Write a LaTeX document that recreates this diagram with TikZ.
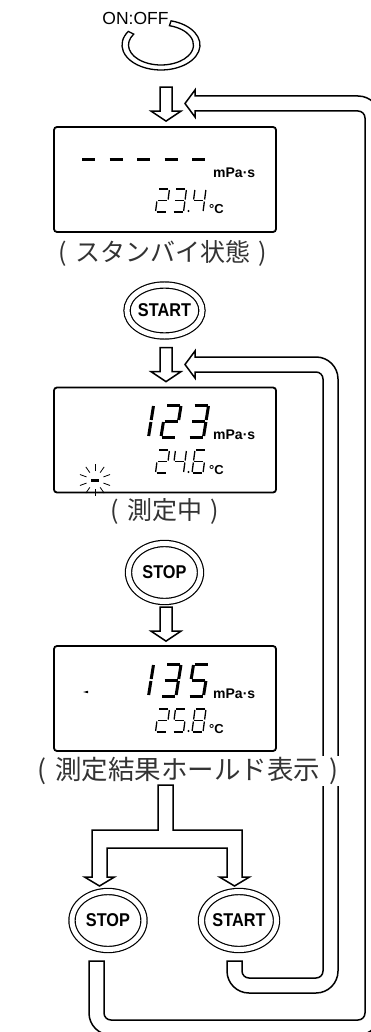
\documentclass[tikz,border=0pt]{standalone}
\usepackage{fontspec}
\setmainfont{Liberation Sans}
\newfontfamily\jpfont{Noto Sans CJK JP}
\usetikzlibrary{shapes.geometric, calc}

% seven segment pieces, sizes set by \bigdigit / \smalldigit
\newcommand{\lcdsega}{\draw[segline] (\sgg,-\sgh) -- (\sgw-\sgg,-\sgh);}
\newcommand{\lcdsegb}{\draw[segline] (\sgw,-\sgh+\sgg) -- (\sgw,-\sgh/2-\sgg);}
\newcommand{\lcdsegc}{\draw[segline] (\sgw,-\sgh/2+\sgg) -- (\sgw,-\sgg);}
\newcommand{\lcdsegd}{\draw[segline] (\sgg,0) -- (\sgw-\sgg,0);}
\newcommand{\lcdsege}{\draw[segline] (0,-\sgg) -- (0,-\sgh/2+\sgg);}
\newcommand{\lcdsegf}{\draw[segline] (0,-\sgh/2-\sgg) -- (0,-\sgh+\sgg);}
\newcommand{\lcdsegg}{\draw[segline] (\sgg,-\sgh/2) -- (\sgw-\sgg,-\sgh/2);}
\newcommand{\bigdigit}[3]{%
  \begin{scope}[shift={(#1,#2)}, xslant=0.16]
    \def\sgw{15}\def\sgh{32}\def\sgg{1}\def\sglw{3pt}
    \foreach \s in {#3} {\csname lcdseg\s\endcsname}
  \end{scope}}
\newcommand{\smalldigit}[3]{%
  \begin{scope}[shift={(#1,#2)}, xslant=0.13]
    \def\sgw{11}\def\sgh{23}\def\sgg{1}\def\sglw{1.3pt}
    \foreach \s in {#3} {\csname lcdseg\s\endcsname}
  \end{scope}}

\begin{document}
\begin{tikzpicture}[x=1pt, y=-1pt,
    lcd/.style={draw, line width=1.8pt, rounded corners=3pt, minimum width=222pt, minimum height=105pt, inner sep=0pt},
    capt/.style={font=\jpfont\fontsize{25}{28}\selectfont, text=black!80, inner sep=0pt},
    btn/.style={ellipse, draw, double, double distance=5pt, line width=1.2pt, minimum width=72pt, minimum height=58pt, inner sep=0pt, font=\bfseries\fontsize{18.5}{19}\selectfont},
    tube/.style={draw, line width=1.5pt, fill=white, line join=miter},
    unit/.style={font=\bfseries\fontsize{14}{14}\selectfont, inner sep=0pt, anchor=base west},
    degc/.style={font=\bfseries\fontsize{13}{13}\selectfont, inner sep=0pt, anchor=base west},
    segline/.style={line width=\sglw},
    dnarrow/.pic={\draw[tube] (-6,-34) -- (-6,-10) -- (-15,-10) -- (0,0) -- (15,-10) -- (6,-10) -- (6,-34) -- cycle;}
  ]
  \useasboundingbox (0,0) rectangle (371,1032);
  \clip (0,0) rectangle (371,1032);

  % --- power switch ---
  \node[font=\fontsize{17.5}{18}\selectfont, inner sep=0pt] (onoff) at (135.5,18.5) {ON:OFF};
  \coordinate (ring) at (161,45);
  \draw[tube, line width=1.3pt] (ring) ++(-75:39 and 25) arc[start angle=-75, end angle=213, x radius=39, y radius=25]
    -- ($(ring)+(213:32.5 and 20)$) arc[start angle=213, end angle=-75, x radius=32.5, y radius=20] -- cycle;

  % --- displays ---
  \node[lcd] (disp1) at (165,179.5) {};
  \node[lcd] (disp2) at (165,440) {};
  \node[lcd] (disp3) at (165,698.5) {};

  \node[capt] (capt1) at (163,253) {\makebox[1em]{(}スタンバイ状態\makebox[1em]{)}};
  \node[capt] (capt2) at (165,511) {\makebox[1em]{(}測定中\makebox[1em]{)}};

  % standby: dashes and 23.4
  \foreach \i in {0,...,4} {\bigdigit{78.5+27.5*\i}{176}{g}}
  \node[unit] (mpa1) at (213,178) {mPa·s};
  \smalldigit{155.5}{212}{a,b,g,e,d}
  \smalldigit{172.5}{212}{a,b,g,c,d}
  \fill (188.5,211) circle (1.1);
  \smalldigit{192}{212}{b,c,f,g}
  \node[degc] (deg1) at (209,213.5) {°C};

  % measuring: 123 / 24.6
  \bigdigit{133.5}{437}{b,c}
  \bigdigit{161}{437}{a,b,g,e,d}
  \bigdigit{188.5}{437}{a,b,g,c,d}
  \node[unit] (mpa2) at (213,439) {mPa·s};
  \smalldigit{155.5}{473}{a,b,g,e,d}
  \smalldigit{172.5}{473}{b,c,f,g}
  \fill (188.5,472) circle (1.1);
  \smalldigit{192}{473}{a,c,d,e,f,g}
  \node[degc] (deg2) at (209,474) {°C};
  \begin{scope}[shift={(95,480)}]
    \draw[line width=3pt] (-4,0) -- (4,0);
    \foreach \a in {20,55,90,125,160,200,235,270,305,340}
      \draw[line width=0.8pt] (\a:9) -- (\a:16);
  \end{scope}

  % hold: 135 / 25.8
  \bigdigit{133.5}{696}{b,c}
  \bigdigit{161}{696}{a,b,g,c,d}
  \bigdigit{188.5}{696}{a,f,g,c,d}
  \node[unit] (mpa3) at (213,698) {mPa·s};
  \smalldigit{155.5}{732}{a,b,g,e,d}
  \smalldigit{172.5}{732}{a,f,g,c,d}
  \fill (188.5,731) circle (1.1);
  \smalldigit{192}{732}{a,b,c,d,e,f,g}
  \node[degc] (deg3) at (209,733) {°C};
  \fill (83,692) -- (88,690.8) -- (88,693.2) -- cycle;

  % --- keys ---
  \node[btn, minimum height=51pt] (start1) at (164.5,310.5) {\scalebox{0.88}[1]{START}};
  \node[btn] (stop1) at (164.5,572.5) {\scalebox{0.88}[1]{STOP}};
  \node[btn] (stop2) at (108,920.5) {\scalebox{0.88}[1]{STOP}};
  \node[btn] (start2) at (239,920.5) {\scalebox{0.88}[1]{START}};

  % --- block arrows ---
  \pic at ($(disp1.north)+(1,-5)$) {dnarrow};
  \pic at ($(disp2.north)+(1,-5)$) {dnarrow};
  \pic at ($(disp3.north)+(1,-4)$) {dnarrow};

  % START loop back to measuring
  \draw[tube] (227,961) -- (227,971) arc[start angle=180, end angle=90, radius=22] -- (316,993)
    arc[start angle=90, end angle=0, radius=22] -- (338,379) arc[start angle=0, end angle=-90, radius=22]
    -- (195,357) -- (195,351) -- (185,364.5) -- (195,378) -- (195,372) -- (316,372)
    arc[start angle=-90, end angle=0, radius=7] -- (323,971) arc[start angle=0, end angle=90, radius=7]
    -- (249,978) arc[start angle=90, end angle=180, radius=7] -- (242,961) -- cycle;

  % STOP loop back to standby
  \draw[tube] (89,961) -- (89,1013) arc[start angle=180, end angle=90, radius=22] -- (358,1035)
    arc[start angle=90, end angle=0, radius=22] -- (380,118) arc[start angle=0, end angle=-90, radius=22]
    -- (195,96) -- (195,90) -- (185,103.5) -- (195,117) -- (195,111) -- (358,111)
    arc[start angle=-90, end angle=0, radius=7] -- (365,1013) arc[start angle=0, end angle=90, radius=7]
    -- (111,1020) arc[start angle=90, end angle=180, radius=7] -- (104,961) -- cycle;

  % hold caption sits over the loop lines
  \node[capt, fill=white, inner sep=1pt, font=\jpfont\fontsize{26.5}{30}\selectfont] (capt3) at (188,771) {\makebox[1em]{(}測定結果ホールド表示\makebox[1em]{)}};

  % split below the hold display
  \draw[tube] (158,785) -- (158,830) -- (92,830) -- (92,877) -- (84.5,877) -- (99.5,886) -- (114.5,877) -- (107,877)
    -- (107,848) -- (227,848) -- (227,877) -- (219.5,877) -- (234.5,886) -- (249.5,877) -- (242,877)
    -- (242,830) -- (173,830) -- (173,785) -- cycle;
\end{tikzpicture}
\end{document}
